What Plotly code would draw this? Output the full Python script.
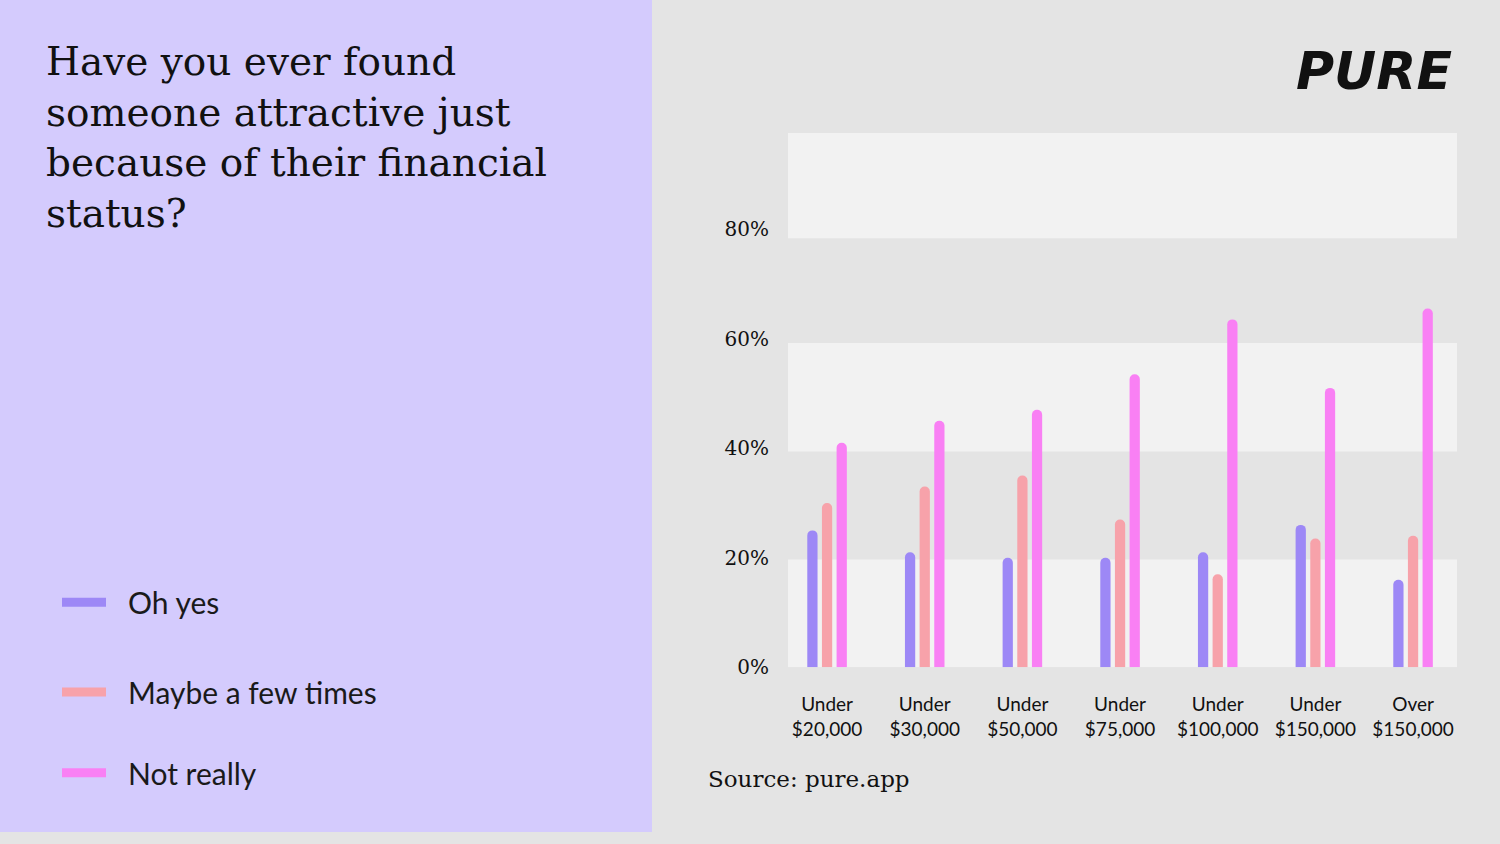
import plotly.graph_objects as go

categories = ["Under<br>$20,000", "Under<br>$30,000", "Under<br>$50,000", "Under<br>$75,000",
              "Under<br>$100,000", "Under<br>$150,000", "Over<br>$150,000"]
oh_yes = [25, 21, 20, 20, 21, 26, 16]
maybe = [30, 33, 35, 27, 17, 23.5, 24]
not_really = [41, 45, 47, 53.5, 63.5, 51, 65.5]
series_names = ["Oh yes", "Maybe a few times", "Not really"]
colors = ["#9d88f6", "#f7a2aa", "#f980f4"]
ytick_vals = [0, 20, 40, 60, 80]
ytick_text = ["0%", "20%", "40%", "60%", "80%"]

W, H = 1500, 844
fig = go.Figure()
xs = list(range(len(categories)))
for name, vals, c in zip(series_names, [oh_yes, maybe, not_really], colors):
    fig.add_trace(go.Bar(x=xs, y=vals, name=name, marker=dict(color=c, cornerradius=5, line=dict(width=0)),
                         showlegend=False))

shapes = [
    dict(type="rect", xref="paper", yref="paper", x0=0, x1=652/W, y0=0, y1=1,
         fillcolor="#d4cbfd", line=dict(width=0), layer="below"),
]
for y0, y1 in [(0, 19.7), (39.4, 59.2), (78.3, 97.5)]:
    shapes.append(dict(type="rect", xref="x domain", yref="y", x0=0, x1=1, y0=y0, y1=y1,
                       fillcolor="#f2f2f2", line=dict(width=0), layer="below"))
legend_y = [611, 702, 784]
annotations = []
for yy, name, c in zip(legend_y, series_names, colors):
    py = 1 - yy / H
    shapes.append(dict(type="line", xref="paper", yref="paper", x0=62/W, x1=106/W, y0=py, y1=py,
                       line=dict(color=c, width=9)))
    annotations.append(dict(text=name, xref="paper", yref="paper", x=126/W, y=py, xanchor="left",
                            yanchor="middle", showarrow=False,
                            font=dict(family="Lato", size=30, color="#1a1a1a")))
annotations.append(dict(text="Have you ever found<br>someone attractive just<br>because of their financial<br>status?",
                        xref="paper", yref="paper", x=44/W, y=1 - 38/H, xanchor="left", yanchor="top",
                        align="left", showarrow=False,
                        font=dict(family="DejaVu Serif", size=39, color="#111")))
annotations.append(dict(text="<b><i>PURE</i></b>", xref="paper", yref="paper", x=1454/W, y=1 - 72/H,
                        xanchor="right", yanchor="middle", showarrow=False,
                        font=dict(family="DejaVu Sans", size=52, color="#111")))
annotations.append(dict(text="Source: pure.app", xref="paper", yref="paper", x=706/W, y=1 - 790/H,
                        xanchor="left", yanchor="middle", showarrow=False,
                        font=dict(family="DejaVu Serif", size=23, color="#111")))

fig.update_layout(
    width=W, height=H, margin=dict(l=0, r=0, t=0, b=0), autosize=False,
    paper_bgcolor="#e4e4e4", plot_bgcolor="rgba(0,0,0,0)",
    barmode="group", bargap=0.55, bargroupgap=0.3,
    shapes=shapes, annotations=annotations,
    xaxis=dict(domain=[788/W, 1457/W], range=[-0.4, 6.45], tickvals=xs, ticktext=categories,
               showgrid=False, zeroline=False, showline=False, ticks="", ticklabelstandoff=24,
               tickfont=dict(family="Lato", size=19, color="#111")),
    yaxis=dict(domain=[1 - 677/H, 1 - 135/H], range=[0, 97.5], tickvals=ytick_vals, ticktext=ytick_text,
               showgrid=False, zeroline=False, showline=False, ticks="outside", ticklen=14,
               tickcolor="rgba(0,0,0,0)",
               tickfont=dict(family="DejaVu Serif", size=20, color="#111")),
)
fig.write_html("out.html", config={"displayModeBar": False, "responsive": False},
               post_script="document.body.style.margin='0';document.documentElement.style.overflow='hidden';"
                           "var gd=document.getElementById('{plot_id}');gd.style.width='1500px';gd.style.height='844px';"
                           "Plotly.relayout(gd,{width:1500,height:844});")
